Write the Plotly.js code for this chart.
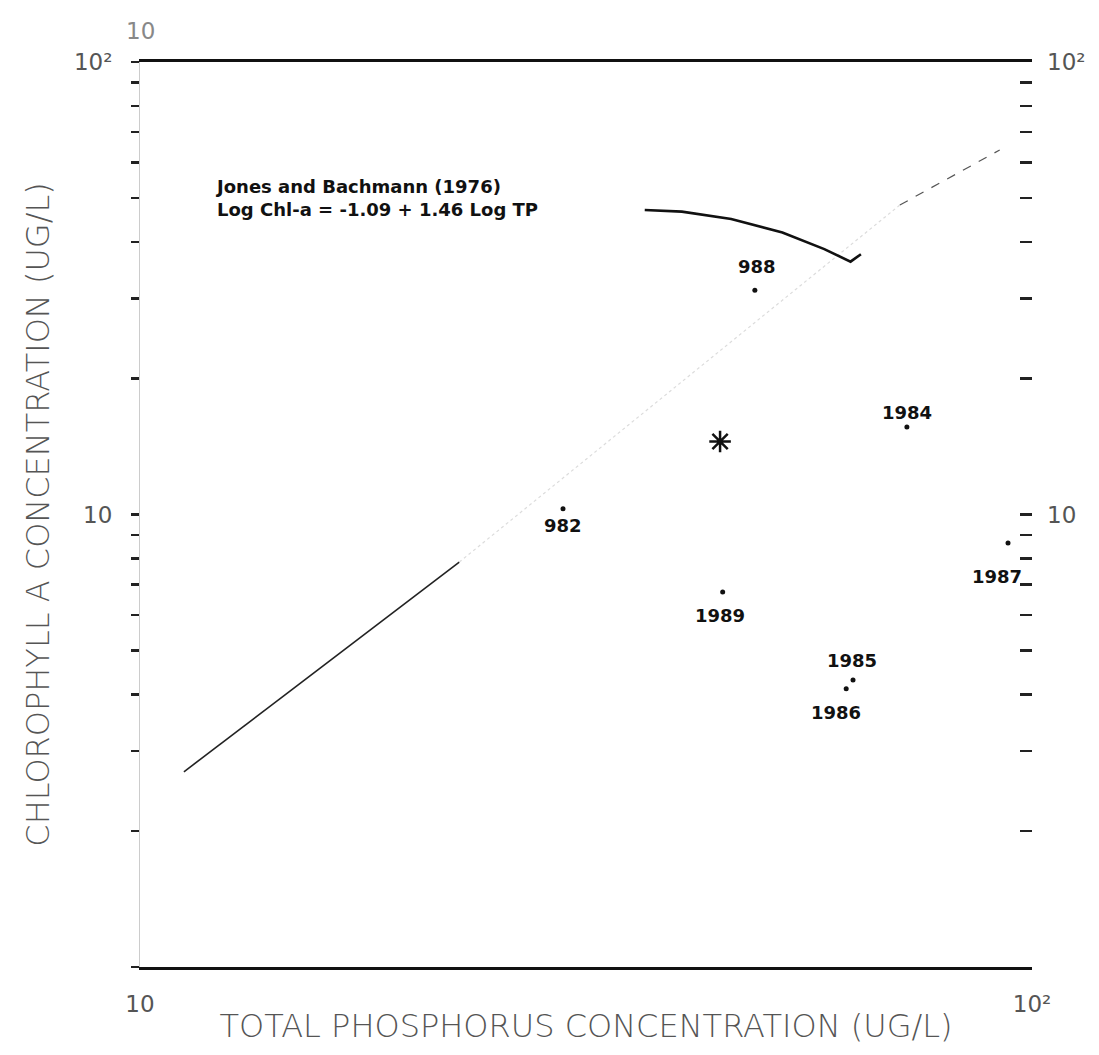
<!DOCTYPE html>
<html><head><meta charset="utf-8">
<script src="https://cdn.plot.ly/plotly-3.0.1.min.js"></script>
<style>body{margin:0;background:#fff}#c{width:1099px;height:1055px}</style>
</head><body><div id="c"></div>
<script>
// Observed points (TP, Chl-a), labels as printed
const yearLabels = ["988","1984","982","1989","1985","1986","1987"];
const tpValues   = [48.9, 72.4, 29.8, 45.0, 63.0, 61.9, 94.0];
const chlValues  = [31.3, 15.6, 10.3, 6.74, 4.31, 4.12, 8.65];
// mean point (star)
const meanTP = [44.7];
const meanChl = [14.5];
// Jones and Bachmann (1976) line
const regSolidTP = [11.2, 22.8];
const regSolidChl = [2.70, 7.85];
const regFaintTP = [22.8, 71.1];
const regFaintChl = [7.85, 48.3];
const regDashTP = [71.1, 92.0];
const regDashChl = [48.3, 63.9];
// leader line from label to regression line
const leaderTP = [36.8, 40.5, 46.0, 52.5, 58.5, 61.4, 62.6, 64.3];
const leaderChl = [47.1, 46.7, 45.0, 42.0, 38.6, 36.8, 36.2, 37.6];
// ticks
const yTickVals = [1,2,3,4,5,6,7,8,9,10,20,30,40,50,60,70,80,90,100];
const yTickText = ["","","","","","","","","","10","","","","","","","","","10²"];
const xTickVals = [10,100];
const xTickText = ["10","10²"];

// label offsets (pixels) - styling only
const labelDX = [2, 0, 0, -3, -1, -10, -11];
const labelDY = [24, 15, -17, -23, 19, -24, -33];

const traces = [
  {x: regSolidTP, y: regSolidChl, mode:'lines', line:{color:'#222', width:1.6}, hoverinfo:'skip'},
  {x: regFaintTP, y: regFaintChl, mode:'lines', line:{color:'#dcdcdc', width:1.2, dash:'dot'}, hoverinfo:'skip'},
  {x: regDashTP, y: regDashChl, mode:'lines', line:{color:'#555', width:1.2, dash:'dash'}, hoverinfo:'skip'},
  {x: leaderTP, y: leaderChl, mode:'lines', line:{color:'#111', width:2.6}, hoverinfo:'skip'},
  {x: tpValues, y: chlValues, mode:'markers', marker:{color:'#111', size:5}},
  {x: meanTP, y: meanChl, mode:'markers', marker:{symbol:'asterisk-open', size:18, color:'#111', line:{color:'#111', width:2.5}}},
  {x: [10,100], y: [1,100], yaxis:'y2', mode:'markers', marker:{opacity:0}, hoverinfo:'skip'}
];

const tickFont = {family:'DejaVu Sans, sans-serif', size:23, color:'#555'};
const titleFont = {family:'DejaVu Sans, sans-serif', size:32, color:'#555', weight:300};
const labelFont = {family:'DejaVu Sans, sans-serif', size:18, color:'#111', weight:'bold'};
const noteFont = {family:'DejaVu Sans, sans-serif', size:18, color:'#111', weight:'bold'};

const annotations = yearLabels.map((t, i) => ({
  x: Math.log10(tpValues[i]), y: Math.log10(chlValues[i]), xref:'x', yref:'y',
  text: t, showarrow:false, xshift: labelDX[i], yshift: labelDY[i], font: labelFont
}));
annotations.push(
  {x:Math.log10(12.07), y:Math.log10(50.1), xref:'x', yref:'y', xanchor:'left', yanchor:'middle', align:'left',
   showarrow:false, text:'Jones and Bachmann (1976)<br>Log Chl-a = -1.09 + 1.46 Log TP', font:noteFont},
  {x:0, y:1, xref:'paper', yref:'paper', xanchor:'center', yanchor:'bottom', yshift:16, showarrow:false,
   text:'10', font:{family:'DejaVu Sans, sans-serif', size:23, color:'#888'}}
);

const layout = {
  width:1099, height:1055,
  margin:{l:140, r:67, t:62, b:88},
  paper_bgcolor:'#fff', plot_bgcolor:'#fff',
  showlegend:false,
  xaxis:{type:'log', range:[1,2], showgrid:false, zeroline:false,
    showline:true, mirror:true, linecolor:'#111', linewidth:3,
    tickvals:xTickVals, ticktext:xTickText, ticks:'', tickfont:tickFont, ticklabelstandoff:14,
    title:{text:'TOTAL PHOSPHORUS CONCENTRATION (UG/L)', standoff:0, font:titleFont}},
  yaxis:{type:'log', range:[0,2], showgrid:false, zeroline:false, showline:true, linecolor:'#ccc', linewidth:1,
    tickvals:yTickVals, ticktext:yTickText, ticks:'outside', ticklen:8, tickwidth:2.5, tickcolor:'#222',
    tickfont:tickFont, ticklabelstandoff:14,
    title:{text:'CHLOROPHYLL A CONCENTRATION (UG/L)', standoff:14, font:titleFont}},
  yaxis2:{type:'log', range:[0,2], overlaying:'y', side:'right', showgrid:false, zeroline:false, showline:false,
    tickvals:yTickVals, ticktext:yTickText, ticks:'inside', ticklen:12, tickwidth:2.5, tickcolor:'#222',
    tickfont:tickFont, ticklabelstandoff:14},
  annotations: annotations
};
Plotly.newPlot('c', traces, layout, {displayModeBar:false, staticPlot:true});
</script></body></html>
